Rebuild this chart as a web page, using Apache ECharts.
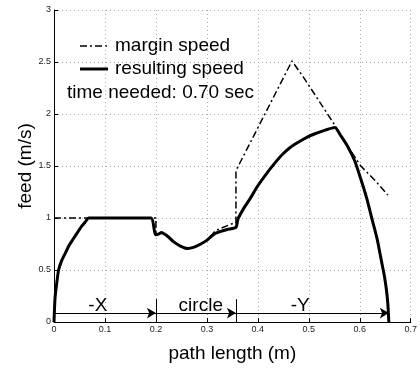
<!DOCTYPE html>
<html>
<head>
<meta charset="utf-8">
<script src="https://cdn.jsdelivr.net/npm/echarts@6/dist/echarts.min.js"></script>
<style>
  html, body { margin: 0; padding: 0; background: #fff; }
  #chart { width: 420px; height: 368px; }
</style>
</head>
<body>
<div id="chart"></div>
<script>
// resulting speed along the path
const resultX = [0, 0.002, 0.005, 0.009, 0.015, 0.022, 0.03, 0.038, 0.046, 0.054, 0.061, 0.068,
  0.19, 0.199, 0.205, 0.211, 0.215, 0.224, 0.235, 0.248, 0.262, 0.275, 0.288, 0.301, 0.31, 0.32, 0.34, 0.357,
  0.361, 0.372, 0.384, 0.40, 0.416, 0.432, 0.448, 0.464, 0.48, 0.496, 0.512, 0.532, 0.551,
  0.563, 0.576, 0.59, 0.602, 0.613, 0.624, 0.634, 0.642, 0.648, 0.652, 0.655, 0.657]
const resultY = [0, 0.23, 0.36, 0.5, 0.59, 0.66, 0.74, 0.80, 0.86, 0.92, 0.96, 1.0,
  1.0, 0.84, 0.845, 0.86, 0.85, 0.82, 0.77, 0.73, 0.707, 0.72, 0.75, 0.79, 0.83, 0.86, 0.89, 0.91,
  0.99, 1.09, 1.18, 1.31, 1.42, 1.52, 1.61, 1.68, 1.73, 1.775, 1.81, 1.845, 1.87,
  1.79, 1.69, 1.55, 1.375, 1.2, 0.99, 0.8, 0.6, 0.45, 0.32, 0.18, 0]

// margin speed
const marginX = [0, 0.2, 0.2, 0.205, 0.211, 0.215, 0.224, 0.235, 0.248, 0.262, 0.275, 0.288, 0.301, 0.31,
  0.317, 0.352, 0.357, 0.357, 0.467, 0.49, 0.55, 0.576, 0.602, 0.63, 0.655]
const marginY = [1.0, 1.0, 0.85, 0.85, 0.86, 0.85, 0.82, 0.77, 0.73, 0.707, 0.72, 0.75, 0.79, 0.84,
  0.88, 0.95, 0.95, 1.455, 2.51, 2.35, 1.90, 1.69, 1.50, 1.36, 1.22]

// path segments
const segBounds = [0, 0.2, 0.357, 0.657]
const segNames = ['-X', 'circle', '-Y']
const segLabelX = [0.086, 0.288, 0.483]
const arrowY = 0.086
const markerTop = 0.22
const labelY = 0.16

const seriesNames = ['margin speed', 'resulting speed']
const timeText = 'time needed: 0.70 sec'

const font = '"Liberation Sans", Arial, Helvetica, sans-serif'
const dashDot = [7, 3, 2, 3]

const zip = (xs, ys) => xs.map((x, i) => [x, ys[i]])

const arrows = []
for (let i = 0; i < segNames.length; i++) {
  arrows.push([{ coord: [segBounds[i], arrowY] }, { coord: [segBounds[i + 1], arrowY] }])
}
const markers = segBounds.slice(1, 3).map(b => [
  { coord: [b, 0], symbol: 'none' }, { coord: [b, markerTop], symbol: 'none' }
])

// legend drawn by hand, MATLAB style (line sample, no marker)
const legendRows = [
  { y: 46, width: 1.5, dash: dashDot, text: seriesNames[0] },
  { y: 69, width: 3, dash: null, text: seriesNames[1] }
]
const legendGraphics = []
legendRows.forEach(r => {
  legendGraphics.push({
    type: 'line', shape: { x1: 80, y1: r.y, x2: 108, y2: r.y },
    style: { stroke: '#000', lineWidth: r.width, lineDash: r.dash }
  })
  legendGraphics.push({
    type: 'text', x: 115, y: r.y,
    style: { text: r.text, fontSize: 19, fill: '#000', fontFamily: font, verticalAlign: 'middle' }
  })
})
legendGraphics.push({
  type: 'text', x: 67, y: 93,
  style: { text: timeText, fontSize: 19, fill: '#000', fontFamily: font, verticalAlign: 'middle' }
})

const chart = echarts.init(document.getElementById('chart'), null, { renderer: 'canvas' })
chart.setOption({
  animation: false,
  textStyle: { fontFamily: font },
  grid: { left: 54, right: 2.7, top: 10, bottom: 44 },
  graphic: legendGraphics,
  xAxis: {
    type: 'value', min: 0, max: 0.7, interval: 0.1,
    name: 'path length (m)', nameLocation: 'middle', nameGap: 22,
    nameTextStyle: { fontSize: 19, color: '#000' },
    axisLine: { onZero: false, lineStyle: { color: '#000', width: 1 } },
    axisTick: { inside: true, length: 4, lineStyle: { color: '#000' } },
    axisLabel: { fontSize: 9, color: '#222', margin: 3 },
    splitLine: { show: true, lineStyle: { color: '#aaa', type: [1, 3], width: 1 } }
  },
  yAxis: {
    type: 'value', min: 0, max: 3, interval: 0.5,
    name: 'feed (m/s)', nameLocation: 'middle', nameGap: 19, nameMoveOverlap: false,
    nameTextStyle: { fontSize: 19, color: '#000' },
    axisLine: { show: true, lineStyle: { color: '#000', width: 1 } },
    axisTick: { show: true, inside: true, length: 4, lineStyle: { color: '#000' } },
    axisLabel: { fontSize: 9, color: '#222', margin: 3 },
    splitLine: { show: true, lineStyle: { color: '#aaa', type: [1, 3], width: 1 } }
  },
  series: [
    {
      name: seriesNames[0], type: 'line', data: zip(marginX, marginY),
      showSymbol: false, symbol: 'none',
      lineStyle: { color: '#000', width: 1.5, type: dashDot },
      itemStyle: { color: '#000' },
      z: 2
    },
    {
      name: seriesNames[1], type: 'line', data: zip(resultX, resultY),
      showSymbol: false, symbol: 'none', smooth: 0.2,
      lineStyle: { color: '#000', width: 3 },
      itemStyle: { color: '#000' },
      z: 3,
      markLine: {
        silent: true, animation: false,
        symbol: ['none', 'arrow'], symbolSize: [8, 9],
        label: { show: false },
        lineStyle: { color: '#000', width: 1, type: 'solid' },
        data: arrows.concat(markers)
      }
    },
    {
      type: 'scatter', symbolSize: 0, silent: true,
      itemStyle: { opacity: 1, color: '#000' },
      data: segNames.map((n, i) => ({ value: [segLabelX[i], labelY], name: n })),
      label: {
        show: true, position: 'inside', formatter: p => p.name,
        fontSize: 19, color: '#000', fontFamily: font
      },
      z: 4
    }
  ]
})
</script>
</body>
</html>
